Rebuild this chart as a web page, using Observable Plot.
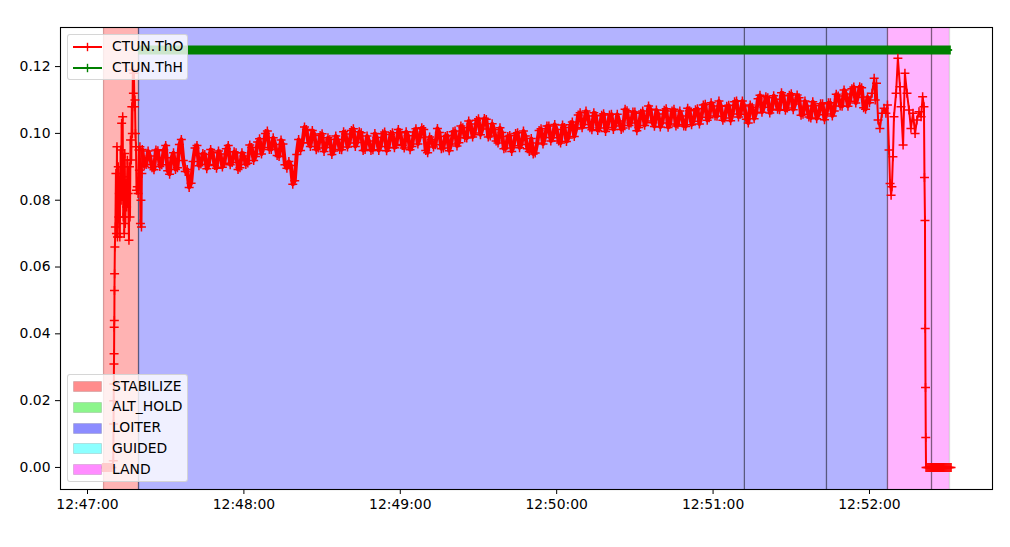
<!DOCTYPE html>
<html><head><meta charset="utf-8">
<script src="https://cdn.jsdelivr.net/npm/d3@7"></script>
<script src="https://cdn.jsdelivr.net/npm/@observablehq/plot@0.6"></script>
<style>
body{margin:0;background:#fff;font-family:"DejaVu Sans",sans-serif;}
#wrap{position:relative;width:1010px;height:547px;overflow:hidden;}
.legend{position:absolute;background:rgba(255,255,255,0.8);border:1px solid rgba(204,204,204,0.8);border-radius:3px;box-sizing:border-box;font-size:13.9px;color:#000;}
.row{position:absolute;left:0;white-space:nowrap;}
.row svg{position:absolute;left:0;top:0;}
.row span{position:absolute;left:44px;line-height:1;}
</style></head>
<body><div id="wrap"></div>
<script>
// ---------- data ----------
const baseTime = "2000-01-01T12:47:00Z";           // seconds below are offsets from 12:47:00
const xTickLabels = ["12:47:00","12:48:00","12:49:00","12:50:00","12:51:00","12:52:00"];
const yTicks = [0.00, 0.02, 0.04, 0.06, 0.08, 0.10, 0.12];

// flight modes
const modeNames  = ["STABILIZE","LOITER","LOITER","LOITER","LAND","LAND"];
const modeStarts = [6.14, 19.57, 252.0, 283.5, 306.9, 323.8];
const modeEnd    = 330.7;
const legendModes  = ["STABILIZE","ALT_HOLD","LOITER","GUIDED","LAND"];
const legendColors = ["#ff8c8c","#8cf58c","#8c8cff","#8cffff","#ff8cff"];
const spanColors   = {STABILIZE:"#ffb3b3", ALT_HOLD:"#b3ffb3", LOITER:"#b3b3ff", GUIDED:"#b3ffff", LAND:"#ffb3ff"};

// CTUN.ThH (hover throttle)
const thhTimes  = [19.6, 331.4];
const thhValues = [0.125, 0.125];

// CTUN.ThO : spin-up in STABILIZE
const earlyTimes  = [5.8,6.2,6.6,7.0,7.4,7.8,8.2,8.6,9.0,9.4,9.9,10.0,10.05,10.1,10.15,10.2,10.25,10.3,10.35,10.4,10.5,
  10.7,10.9,11.1,11.3,11.5,11.8,12.0,12.2,12.4,12.7,12.9,13.1,13.3,13.5,13.7,13.9,14.1,14.3,14.5,14.8,15.0,
  15.3,15.6,15.9,16.1,16.3,16.5,16.8,17.0,17.2,17.4,17.6,17.8,18.0,18.2,18.4,18.6,18.8,19.1,19.4,19.7,19.9,
  20.1,20.3,20.5,20.7,20.85];
const earlyValues = [0,0,0,0,0,0,0,0,0,0,0.002,0.013,0.020,0.025,0.031,0.034,0.042,0.044,0.053,0.058,0.066,
  0.072,0.088,0.070,0.096,0.069,0.090,0.075,0.082,0.069,0.095,0.080,0.103,0.090,0.105,0.075,0.087,0.070,
  0.094,0.073,0.085,0.078,0.092,0.082,0.068,0.090,0.075,0.098,0.092,0.108,0.100,0.119,0.112,0.118,0.108,
  0.110,0.100,0.096,0.083,0.084,0.082,0.095,0.089,0.096,0.073,0.080,0.072,0.088];

// CTUN.ThO : LOITER, readings every 1.5 s from t = 21 s ...
const bandStart = 21, bandStep = 1.5;
const bandValues = [
 0.0952,0.0907,0.0932,0.0891,0.0948,0.0906,0.0964,0.0878,0.0942,0.0897,
 0.0982,0.0886,0.0838,0.0916,0.0964,0.0908,0.0937,0.0907,0.0942,0.0896,
 0.0938,0.0911,0.0964,0.0913,0.0942,0.0897,0.0932,0.0911,0.0958,0.0931,
 0.0984,0.0958,0.1007,0.0952,0.0967,0.0931,0.0968,0.0896,0.0904,0.0858,
 0.0982,0.0972,0.1012,0.0961,0.0998,0.0956,0.0999,0.0958,0.0982,0.0947,
 0.0982,0.0951,0.0998,0.0971,0.1014,0.0973,0.1002,0.0952,0.0977,0.0951,
 0.0988,0.0961,0.1004,0.0958,0.1002,0.0967,0.1002,0.0956,0.0993,0.0961,
 0.1014,0.0988,0.1012,0.0942,0.0982,0.0966,0.1003,0.0956,0.0994,0.0968,
 0.1007,0.0972,0.1017,0.0986,0.1028,0.1001,0.1044,0.1013,0.1042,0.0992,
 0.1012,0.0971,0.1003,0.0956,0.0994,0.0963,0.1002,0.0967,0.0992,0.0946,
 0.0938,0.0971,0.1014,0.0988,0.1022,0.0987,0.1012,0.0971,0.1018,0.0986,
 0.1034,0.1013,0.1062,0.1027,0.1052,0.1011,0.1053,0.1016,0.1059,0.1018,
 0.1057,0.1022,0.1037,0.1016,0.1068,0.1031,0.1064,0.1018,0.1067,0.1037,
 0.1072,0.1021,0.1058,0.1031,0.1074,0.1028,0.1072,0.1027,0.1052,0.1021,
 0.1068,0.1036,0.1074,0.1048,0.1087,0.1047,0.1082,0.1051,0.1083,0.1046,
 0.1084,0.1058,0.1097,0.1057,0.1082,0.1031,0.1078,0.1061,0.1114,0.1078,
 0.1107,0.1070,0.1102,0.1071,0.1113,0.1076,0.1119,0.1088,0.1107,0.1057,
 0.1082,0.1046,0.1083,0.1056,0.1089,0.1058,0.1092,0.1067,0.1112,0.1081,
 0.1118,0.1096,0.1139,0.1108,0.1137,0.1072,0.1092];
// ... and the readings in between them (t = 21.75 s, 23.25 s, ...)
const bandMidValues = [
 0.0902,0.0947,0.0897,0.0950,0.0901,0.0951,0.0888,0.0927,0.0892,0.0967,
 0.0919,0.0892,0.0851,0.0956,0.0903,0.0940,0.0894,0.0952,0.0904,0.0947,
 0.0899,0.0954,0.0906,0.0945,0.0892,0.0942,0.0907,0.0965,0.0919,0.0974,
 0.0938,0.1000,0.0952,0.0987,0.0934,0.0980,0.0906,0.0916,0.0848,0.0937,
 0.0949,0.1019,0.0972,0.1009,0.0951,0.0994,0.0946,0.0987,0.0937,0.0992,
 0.0952,0.1005,0.0959,0.1009,0.0961,0.1005,0.0949,0.0992,0.0949,0.1000,
 0.0949,0.0999,0.0948,0.0997,0.0957,0.1012,0.0964,0.1005,0.0951,0.1004,
 0.0968,0.1017,0.0949,0.0989,0.0959,0.1015,0.0954,0.0991,0.0948,0.1005,
 0.0962,0.1022,0.0987,0.1037,0.0989,0.1039,0.0996,0.1045,0.0989,0.1029,
 0.0977,0.1017,0.0954,0.0991,0.0946,0.1000,0.0957,0.1007,0.0954,0.0985,
 0.0941,0.1009,0.0968,0.1022,0.0977,0.1027,0.0977,0.1025,0.0976,0.1026,
 0.0991,0.1055,0.1017,0.1067,0.1017,0.1062,0.1009,0.1054,0.1006,0.1055,
 0.1012,0.1057,0.1012,0.1072,0.1024,0.1064,0.1008,0.1060,0.1024,0.1082,
 0.1032,0.1070,0.1019,0.1069,0.1018,0.1067,0.1022,0.1067,0.1022,0.1075,
 0.1026,0.1071,0.1028,0.1085,0.1039,0.1092,0.1052,0.1097,0.1039,0.1081,
 0.1038,0.1095,0.1049,0.1097,0.1042,0.1085,0.1044,0.1104,0.1063,0.1110,
 0.1061,0.1113,0.1072,0.1122,0.1069,0.1114,0.1071,0.1115,0.1054,0.1097,
 0.1049,0.1095,0.1044,0.1089,0.1041,0.1092,0.1052,0.1117,0.1082,0.1130,
 0.1081,0.1134,0.1091,0.1140,0.1077,0.1109];

// CTUN.ThO : LAND
const landTimes  = [301.0,301.8,302.2,302.7,303.3,304.0,304.8,305.6,306.3,306.9,307.5,307.9,308.3,308.6,309.0,
  309.4,310.2,310.9,311.7,312.1,312.9,313.6,314.4,315.2,315.9,316.7,317.5,318.2,319.0,319.8,320.4,320.9,321.1,
  321.3,321.4,321.5,321.6,321.7,322.1,322.5,322.9,323.3,323.7,324.1,324.5,324.9,325.3,325.7,326.1,326.5,326.9,
  327.3,327.7,328.1,328.5,328.9,329.3,329.7,330.1,330.5,330.9,331.3];
const landValues = [0.112,0.1165,0.110,0.115,0.104,0.1015,0.106,0.1075,0.106,0.1085,0.095,0.085,0.0815,0.084,0.093,
  0.105,0.112,0.1225,0.114,0.108,0.0965,0.118,0.112,0.107,0.1015,0.106,0.100,0.104,0.1065,0.105,0.111,0.108,0.0868,
  0.0739,0.0416,0.0239,0.009,0,0,0,0,0,0,0,0,0,0,0,0,0,0,0,0,0,0,0,0,0,0,0,0,0];

// ---------- build ----------
const t0 = Date.parse(baseTime);
const toDate = s => new Date(t0 + s * 1000);
const band = [];
bandValues.forEach((v, i) => band.push({s: bandStart + i * bandStep, v}));
bandMidValues.forEach((v, i) => band.push({s: bandStart + (i + 0.5) * bandStep, v}));
const tho = band.slice();
earlyTimes.forEach((t, i) => tho.push({s: t, v: earlyValues[i]}));
landTimes.forEach((t, i) => tho.push({s: t, v: landValues[i]}));
for (const arr of [band, tho]) { arr.sort((a, b) => a.s - b.s); arr.forEach(d => d.t = toDate(d.s)); }

const modes = modeNames.map((m, i) => ({
  mode: m, start: toDate(modeStarts[i]),
  end: toDate(i + 1 < modeStarts.length ? modeStarts[i + 1] : modeEnd)
}));
const thh = thhTimes.map((t, i) => ({t: toDate(t), v: thhValues[i]}));
const thhBar = [{x1: thh[0].t, x2: thh[1].t, y: thh[0].v}];
const xTicks = xTickLabels.map(s => new Date(`2000-01-01T${s}Z`));

const chart = Plot.plot({
  width: 1010, height: 547,
  marginLeft: 60, marginRight: 18, marginTop: 27, marginBottom: 58,
  style: {fontFamily: "DejaVu Sans", fontSize: "13.9px", color: "#000", background: "#fff"},
  x: {type: "utc", domain: [toDate(-10.36), toDate(347.2)]},
  y: {domain: [-0.0066, 0.1317]},
  marks: [
    Plot.rect(modes, {x1: "start", x2: "end", fill: d => spanColors[d.mode]}),
    Plot.ruleX([modes[0].start, modes[modes.length-1].end], {stroke: "#000", strokeOpacity: 0.15, strokeWidth: 1.3}),
    Plot.ruleX(modes.slice(1), {x: "start", stroke: "#000", strokeOpacity: 0.5, strokeWidth: 1.3}),
    Plot.ruleY(thhBar, {x1: "x1", x2: "x2", y: "y", stroke: "#008000", strokeWidth: 9}),
    Plot.line(thh, {x: "t", y: "v", stroke: "#008000", strokeWidth: 2}),
    // dense 10 Hz log: the hover segment reads as a solid ribbon
    Plot.line(band, {x: "t", y: "v", stroke: "#ff0000", strokeWidth: 4, strokeLinejoin: "round"}),
    Plot.line(tho, {x: "t", y: "v", stroke: "#ff0000", strokeWidth: 2}),
    Plot.dot(tho, {x: "t", y: "v", symbol: "plus", r: 3.0, stroke: "#ff0000", strokeWidth: 1.5}),
    Plot.frame({stroke: "#000", strokeWidth: 1.1}),
    Plot.axisX({ticks: xTicks, tickFormat: d3.utcFormat("%H:%M:%S"), tickSize: 5, tickPadding: 5, label: null}),
    Plot.axisY({ticks: yTicks, tickFormat: d3.format(".2f"), tickSize: 5, tickPadding: 5, label: null})
  ]
});
const wrap = document.getElementById("wrap");
wrap.appendChild(chart);

// ---------- legends (overlaid inside the axes, matplotlib style) ----------
function makeLegend(left, top, w, h) {
  const d = document.createElement("div");
  d.className = "legend";
  Object.assign(d.style, {left: left + "px", top: top + "px", width: w + "px", height: h + "px"});
  wrap.appendChild(d);
  return d;
}
const lineLegend = makeLegend(67, 34, 121, 46);
[["CTUN.ThO", "#ff0000"], ["CTUN.ThH", "#008000"]].forEach(([name, c], i) => {
  const r = document.createElement("div");
  r.className = "row";
  r.style.top = (2 + i * 20.8) + "px";
  r.innerHTML = `<svg width="40" height="20"><line x1="5" x2="34" y1="10" y2="10" stroke="${c}" stroke-width="2"/>
    <line x1="19.5" x2="19.5" y1="5.8" y2="14.2" stroke="${c}" stroke-width="1.4"/></svg>
    <span style="top:3px">${name}</span>`;
  lineLegend.appendChild(r);
});
const modeLegend = makeLegend(67, 374, 121, 108);
legendModes.forEach((name, i) => {
  const r = document.createElement("div");
  r.className = "row";
  r.style.top = (1 + i * 20.8) + "px";
  r.innerHTML = `<svg width="40" height="20"><rect x="5.5" y="5.5" width="28" height="10" fill="${legendColors[i]}" stroke="#000" stroke-opacity="0.12" stroke-width="1"/></svg>
    <span style="top:3.5px">${name}</span>`;
  modeLegend.appendChild(r);
});
</script>
</body></html>
